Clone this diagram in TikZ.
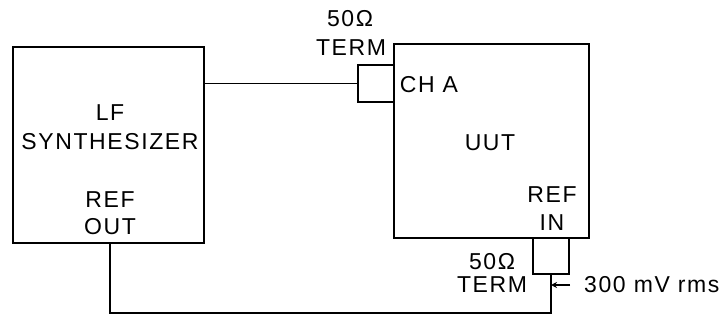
\documentclass[tikz,border=0pt]{standalone}
\usepackage{fontspec}
\setmainfont{Liberation Sans}[LetterSpace=7]
\usetikzlibrary{arrows.meta}
\begin{document}
\begin{tikzpicture}[x=1pt,y=-1pt,
  box/.style={draw, line width=1.8pt, inner sep=0pt},
  lbl/.style={inner sep=0pt, font=\fontsize{23}{27}\selectfont},
  wire/.style={line width=1.8pt}]
\useasboundingbox (0,0) rectangle (722,320);
% boxes
\node[box, minimum width=191pt, minimum height=196pt] (lf) at (108.5,145) {};
\node[box, minimum width=195pt, minimum height=194pt] (uut) at (491.5,141) {};
\node[box, minimum width=36pt, minimum height=37pt] (t1) at (376,83.5) {};
\node[box, minimum width=36pt, minimum height=36pt] (t2) at (551,256) {};
% texts
\node[lbl] (lf1) at (110,113) {LF};
\node[lbl] (lf2) at (110,142) {SYNTHESIZER};
\node[lbl] (ro1) at (110,200) {REF};
\node[lbl] (ro2) at (110,227) {OUT};
\node[lbl] (ta1) at (350,19) {50Ω};
\node[lbl] (ta2) at (351,48) {TERM};
\node[lbl] (cha) at (429,85) {CH A};
\node[lbl] (u) at (490,143) {UUT};
\node[lbl] (ri1) at (552,195) {REF};
\node[lbl] (ri2) at (552,223) {IN};
\node[lbl] (tb1) at (492,262) {50Ω};
\node[lbl] (tb2) at (492,285) {TERM};
\node[lbl, anchor=west] (mv) at (584,285) {300 mV rms};
% connectors
\draw[wire] (t1.west) -- (t1.west -| lf.east);
\coordinate (bl) at (110,313);
\draw[wire] (t2.south) |- (bl) -- (bl |- lf.south);
\coordinate (as) at (570,285);
\coordinate (ae) at (t2.south |- as);
\draw[wire, -{Stealth[length=6pt,width=6pt]}] (as) -- (ae);
\end{tikzpicture}
\end{document}
